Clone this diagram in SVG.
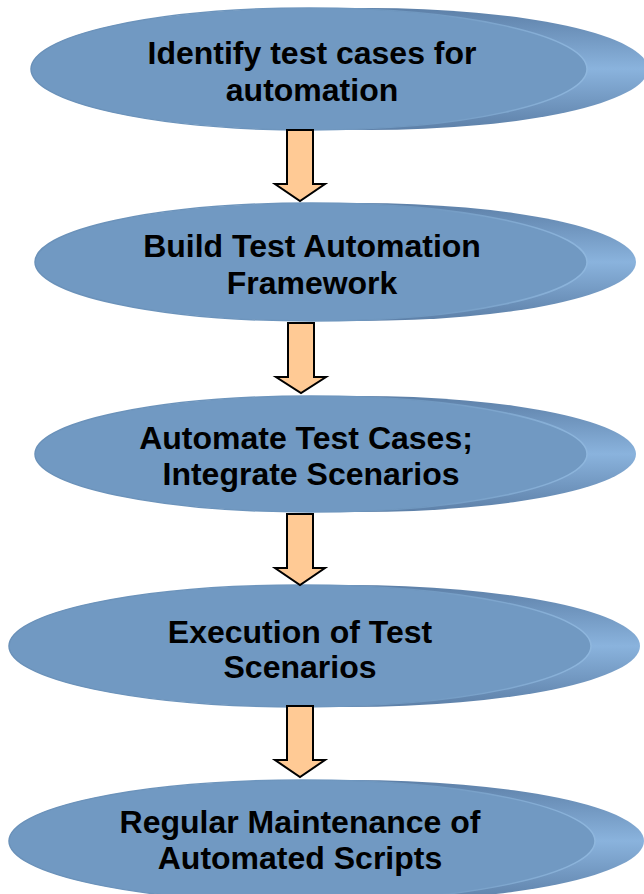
<svg xmlns="http://www.w3.org/2000/svg" width="644" height="894" viewBox="0 0 644 894">
  <defs>
    <!-- extruded rim behind each disc: dark top/bottom, light middle -->
    <linearGradient id="rim" x1="0" y1="0" x2="0" y2="1">
      <stop offset="0" stop-color="#5d80a8"/>
      <stop offset="0.5" stop-color="#8ab3dd"/>
      <stop offset="1" stop-color="#5d80a8"/>
    </linearGradient>
    <!-- disc face edge: soft on the left, highlighted on the right -->
    <linearGradient id="edge" x1="0" y1="0" x2="1" y2="0">
      <stop offset="0" stop-color="#6a91b9"/>
      <stop offset="0.7" stop-color="#7098c0"/>
      <stop offset="1" stop-color="#8fb7de"/>
    </linearGradient>
  </defs>
  <style>
    .rim { fill: url(#rim); }
    .face { fill: #7199c2; stroke: url(#edge); stroke-width: 1.5; }
    .label { font-family: "Liberation Sans", Arial, sans-serif; font-weight: bold; font-size: 32px; fill: #000; text-anchor: middle; }
    .arrow { fill: #ffca95; stroke: #000; stroke-width: 2; stroke-linejoin: miter; }
  </style>

  <rect width="644" height="894" fill="#ffffff"/>

  <g id="node1">
    <ellipse class="rim" cx="370" cy="69" rx="278" ry="61"/>
    <ellipse class="face" cx="309" cy="69" rx="278" ry="61"/>
    <text class="label" x="312" y="64">Identify test cases for</text>
    <text class="label" x="312" y="101">automation</text>
  </g>

  <g id="node2">
    <ellipse class="rim" cx="360" cy="262" rx="276" ry="59"/>
    <ellipse class="face" cx="311" cy="262" rx="276" ry="59"/>
    <text class="label" x="312" y="257">Build Test Automation</text>
    <text class="label" x="312" y="294">Framework</text>
  </g>

  <g id="node3">
    <ellipse class="rim" cx="360" cy="454" rx="276" ry="58"/>
    <ellipse class="face" cx="311" cy="454" rx="276" ry="58"/>
    <text class="label" x="306" y="449">Automate Test Cases;</text>
    <text class="label" x="311" y="485">Integrate Scenarios</text>
  </g>

  <g id="node4">
    <ellipse class="rim" cx="349" cy="646" rx="291" ry="61"/>
    <ellipse class="face" cx="300" cy="646" rx="291" ry="61"/>
    <text class="label" x="300" y="643">Execution of Test</text>
    <text class="label" x="300" y="678">Scenarios</text>
  </g>

  <g id="node5">
    <ellipse class="rim" cx="351" cy="841" rx="293" ry="61"/>
    <ellipse class="face" cx="302" cy="841" rx="293" ry="61"/>
    <text class="label" x="300" y="833">Regular Maintenance of</text>
    <text class="label" x="300" y="869">Automated Scripts</text>
  </g>

  <g id="connectors">
    <polygon class="arrow" points="287,130 313,130 313,184 325,184 300,201 275,184 287,184"/>
    <polygon class="arrow" points="288,323 314,323 314,377 326,377 301,393 276,377 288,377"/>
    <polygon class="arrow" points="287,514 313,514 313,568 325,568 300,585 275,568 287,568"/>
    <polygon class="arrow" points="287,706 313,706 313,760 325,760 300,777 275,760 287,760"/>
  </g>
</svg>
